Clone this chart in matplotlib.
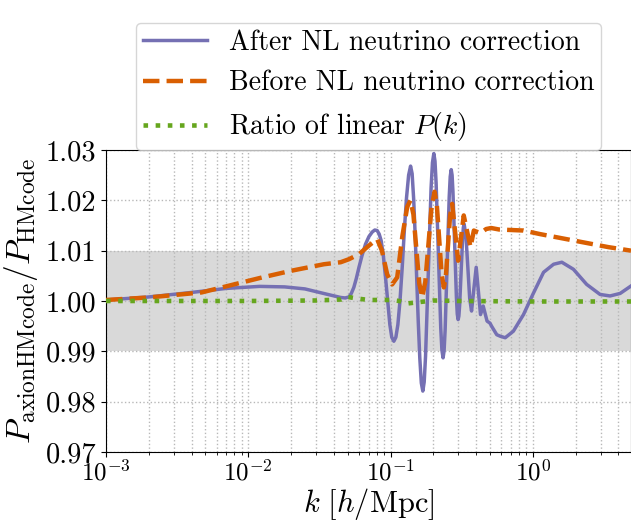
import numpy as np
import matplotlib
matplotlib.use("Agg")
from matplotlib import pyplot as plt

plt.rcParams['font.family'] = 'serif'
plt.rcParams['font.serif'] = ['cmr10']
plt.rcParams['mathtext.fontset'] = 'cm'
plt.rcParams['axes.formatter.use_mathtext'] = True

# values
k_after = [0.001, 0.002, 0.004, 0.007, 0.012, 0.018, 0.025, 0.035, 0.0446, 0.048,
           0.051, 0.053, 0.0552, 0.0575, 0.060, 0.063, 0.0667, 0.0705, 0.0743, 0.0775,
           0.0805, 0.0832, 0.0859, 0.089, 0.0922, 0.0955, 0.0989, 0.102, 0.1055, 0.109,
           0.1126, 0.1165, 0.1208, 0.125, 0.1295, 0.134, 0.1383, 0.1418, 0.1453, 0.149,
           0.1527, 0.1566, 0.1606, 0.1646, 0.1686, 0.1724, 0.1762, 0.1843, 0.1927, 0.1971,
           0.2015, 0.2053, 0.2091, 0.2171, 0.2254, 0.2297, 0.234, 0.2379, 0.2419, 0.2500,
           0.2584, 0.2627, 0.267, 0.2708, 0.2746, 0.2824, 0.2904, 0.2945, 0.2986, 0.3022,
           0.3059, 0.3134, 0.3211, 0.325, 0.329, 0.339, 0.3494, 0.360, 0.371, 0.3852,
           0.400, 0.4142, 0.429, 0.448, 0.477, 0.50, 0.513, 0.558, 0.59, 0.64,
           0.73, 0.86, 1.0, 1.19, 1.40, 1.60, 1.93, 2.39, 2.97, 3.49,
           4.11, 4.91]
r_after = [1.0002, 1.0008, 1.0017, 1.0025, 1.0029, 1.0028, 1.0024, 1.0014, 1.0007, 1.0006,
           1.0008, 1.0015, 1.0027, 1.0045, 1.0067, 1.0090, 1.0113, 1.0128, 1.0137, 1.0141,
           1.0140, 1.0133, 1.0120, 1.0090, 1.0047, 1.0000, 0.9953, 0.9928, 0.9920, 0.9928,
           0.9953, 1.0000, 1.0067, 1.0140, 1.0205, 1.0250, 1.0268, 1.0253, 1.0204, 1.0131,
           1.0045, 0.9959, 0.9886, 0.9837, 0.9821, 0.9839, 0.9890, 1.0057, 1.0224, 1.0275,
           1.0293, 1.0278, 1.0234, 1.0090, 0.9946, 0.9902, 0.9887, 0.9901, 0.9942, 1.0074,
           1.0206, 1.0247, 1.0261, 1.0250, 1.0217, 1.0112, 1.0007, 0.9974, 0.9963, 0.9970,
           0.9991, 1.0058, 1.0125, 1.0146, 1.0153, 1.0128, 1.0067, 1.0005, 0.9980, 1.0024,
           1.0067, 1.0020, 0.9973, 0.9990, 0.9960, 0.9956, 0.9950, 0.9933, 0.9930, 0.9927,
           0.9940, 0.9973, 1.0013, 1.0057, 1.0073, 1.0077, 1.0063, 1.0033, 1.0013, 1.0010,
           1.0015, 1.0030]

k_before = [0.001, 0.002, 0.0047, 0.0126, 0.02, 0.034, 0.0446, 0.051, 0.060, 0.0704,
            0.0805, 0.087, 0.0947, 0.1027, 0.1114, 0.1208, 0.131, 0.138, 0.1448, 0.1518,
            0.1592, 0.167, 0.1755, 0.1846, 0.1941, 0.204, 0.2118, 0.2199, 0.2283, 0.237,
            0.2451, 0.2534, 0.2621, 0.271, 0.2845, 0.2986, 0.3125, 0.327, 0.3455, 0.365,
            0.385, 0.40, 0.43, 0.47, 0.51, 0.58, 0.86, 1.12, 1.95, 3.4,
            4.9]
r_before = [1.0002, 1.0007, 1.0017, 1.0047, 1.0060, 1.0073, 1.0077, 1.0083, 1.0093, 1.0110,
            1.0123, 1.0100, 1.0053, 1.0033, 1.0047, 1.0127, 1.0187, 1.0200, 1.0172, 1.0104,
            1.0035, 1.0007, 1.0038, 1.0112, 1.0186, 1.0217, 1.0189, 1.0122, 1.0055, 1.0027,
            1.0051, 1.0110, 1.0169, 1.0193, 1.0137, 1.0080, 1.0125, 1.0170, 1.0138, 1.0107,
            1.0140, 1.0138, 1.0135, 1.0143, 1.0145, 1.0142, 1.0140, 1.0133, 1.0120, 1.0107,
            1.0100]

k_lin = [0.001, 0.01, 0.03, 0.045, 0.05, 0.058, 0.07, 0.1, 0.115, 0.131,
         0.15, 0.2, 0.3, 1.0, 4.9]
r_lin = [1.0000, 1.0000, 1.0001, 1.0003, 1.0008, 1.0005, 1.0002, 1.0002, 1.0000, 0.9995,
         0.9997, 1.0001, 1.0000, 0.9999, 0.9999]

labels = ['After NL neutrino correction', 'Before NL neutrino correction',
          r'Ratio of linear $P(k)$']

fig = plt.figure(figsize=(6.31, 5.23), dpi=100)
ax = fig.add_axes([0.168, 0.1358, 0.832, 0.5774])

ax.axhspan(0.99, 1.01, color='#d9d9d9', zorder=0, lw=0)
ax.plot(k_after, r_after, color='#7570b3', lw=2.5, label=labels[0], zorder=3)
ax.plot(k_before, r_before, color='#d95f02', lw=3.2, ls='--', label=labels[1], zorder=4)
ax.plot(k_lin, r_lin, color='#66a61e', lw=3.3, ls=':', label=labels[2], zorder=5)

ax.set_xscale('log')
ax.set_xlim(1e-3, 4.9)
ax.set_ylim(0.97, 1.03)
ax.set_yticks([0.97, 0.98, 0.99, 1.00, 1.01, 1.02, 1.03])
ax.set_yticklabels(['0.97', '0.98', '0.99', '1.00', '1.01', '1.02', '1.03'])
ax.grid(True, which='both', axis='x', ls=':', color='#b8b8b8', lw=1, zorder=1)
ax.grid(True, which='major', axis='y', ls=':', color='#b8b8b8', lw=1, zorder=1)
ax.set_axisbelow(True)
ax.tick_params(axis='x', labelsize=18, pad=2)
ax.tick_params(axis='y', labelsize=20.5)

ax.set_xlabel(r'$k\ [h/{\rm Mpc}]$', fontsize=22, labelpad=0)
ax.set_ylabel(r'$P_{\rm axionHMcode}/P_{\rm HMcode}$', fontsize=24)

fig.legend(loc='upper center', bbox_to_anchor=(368.5 / 631, 1 - 9 / 523),
           fontsize=20, handlelength=2.3, borderpad=0.25, framealpha=0.8,
           edgecolor='#cccccc')

fig.savefig('out.png', dpi=100)
